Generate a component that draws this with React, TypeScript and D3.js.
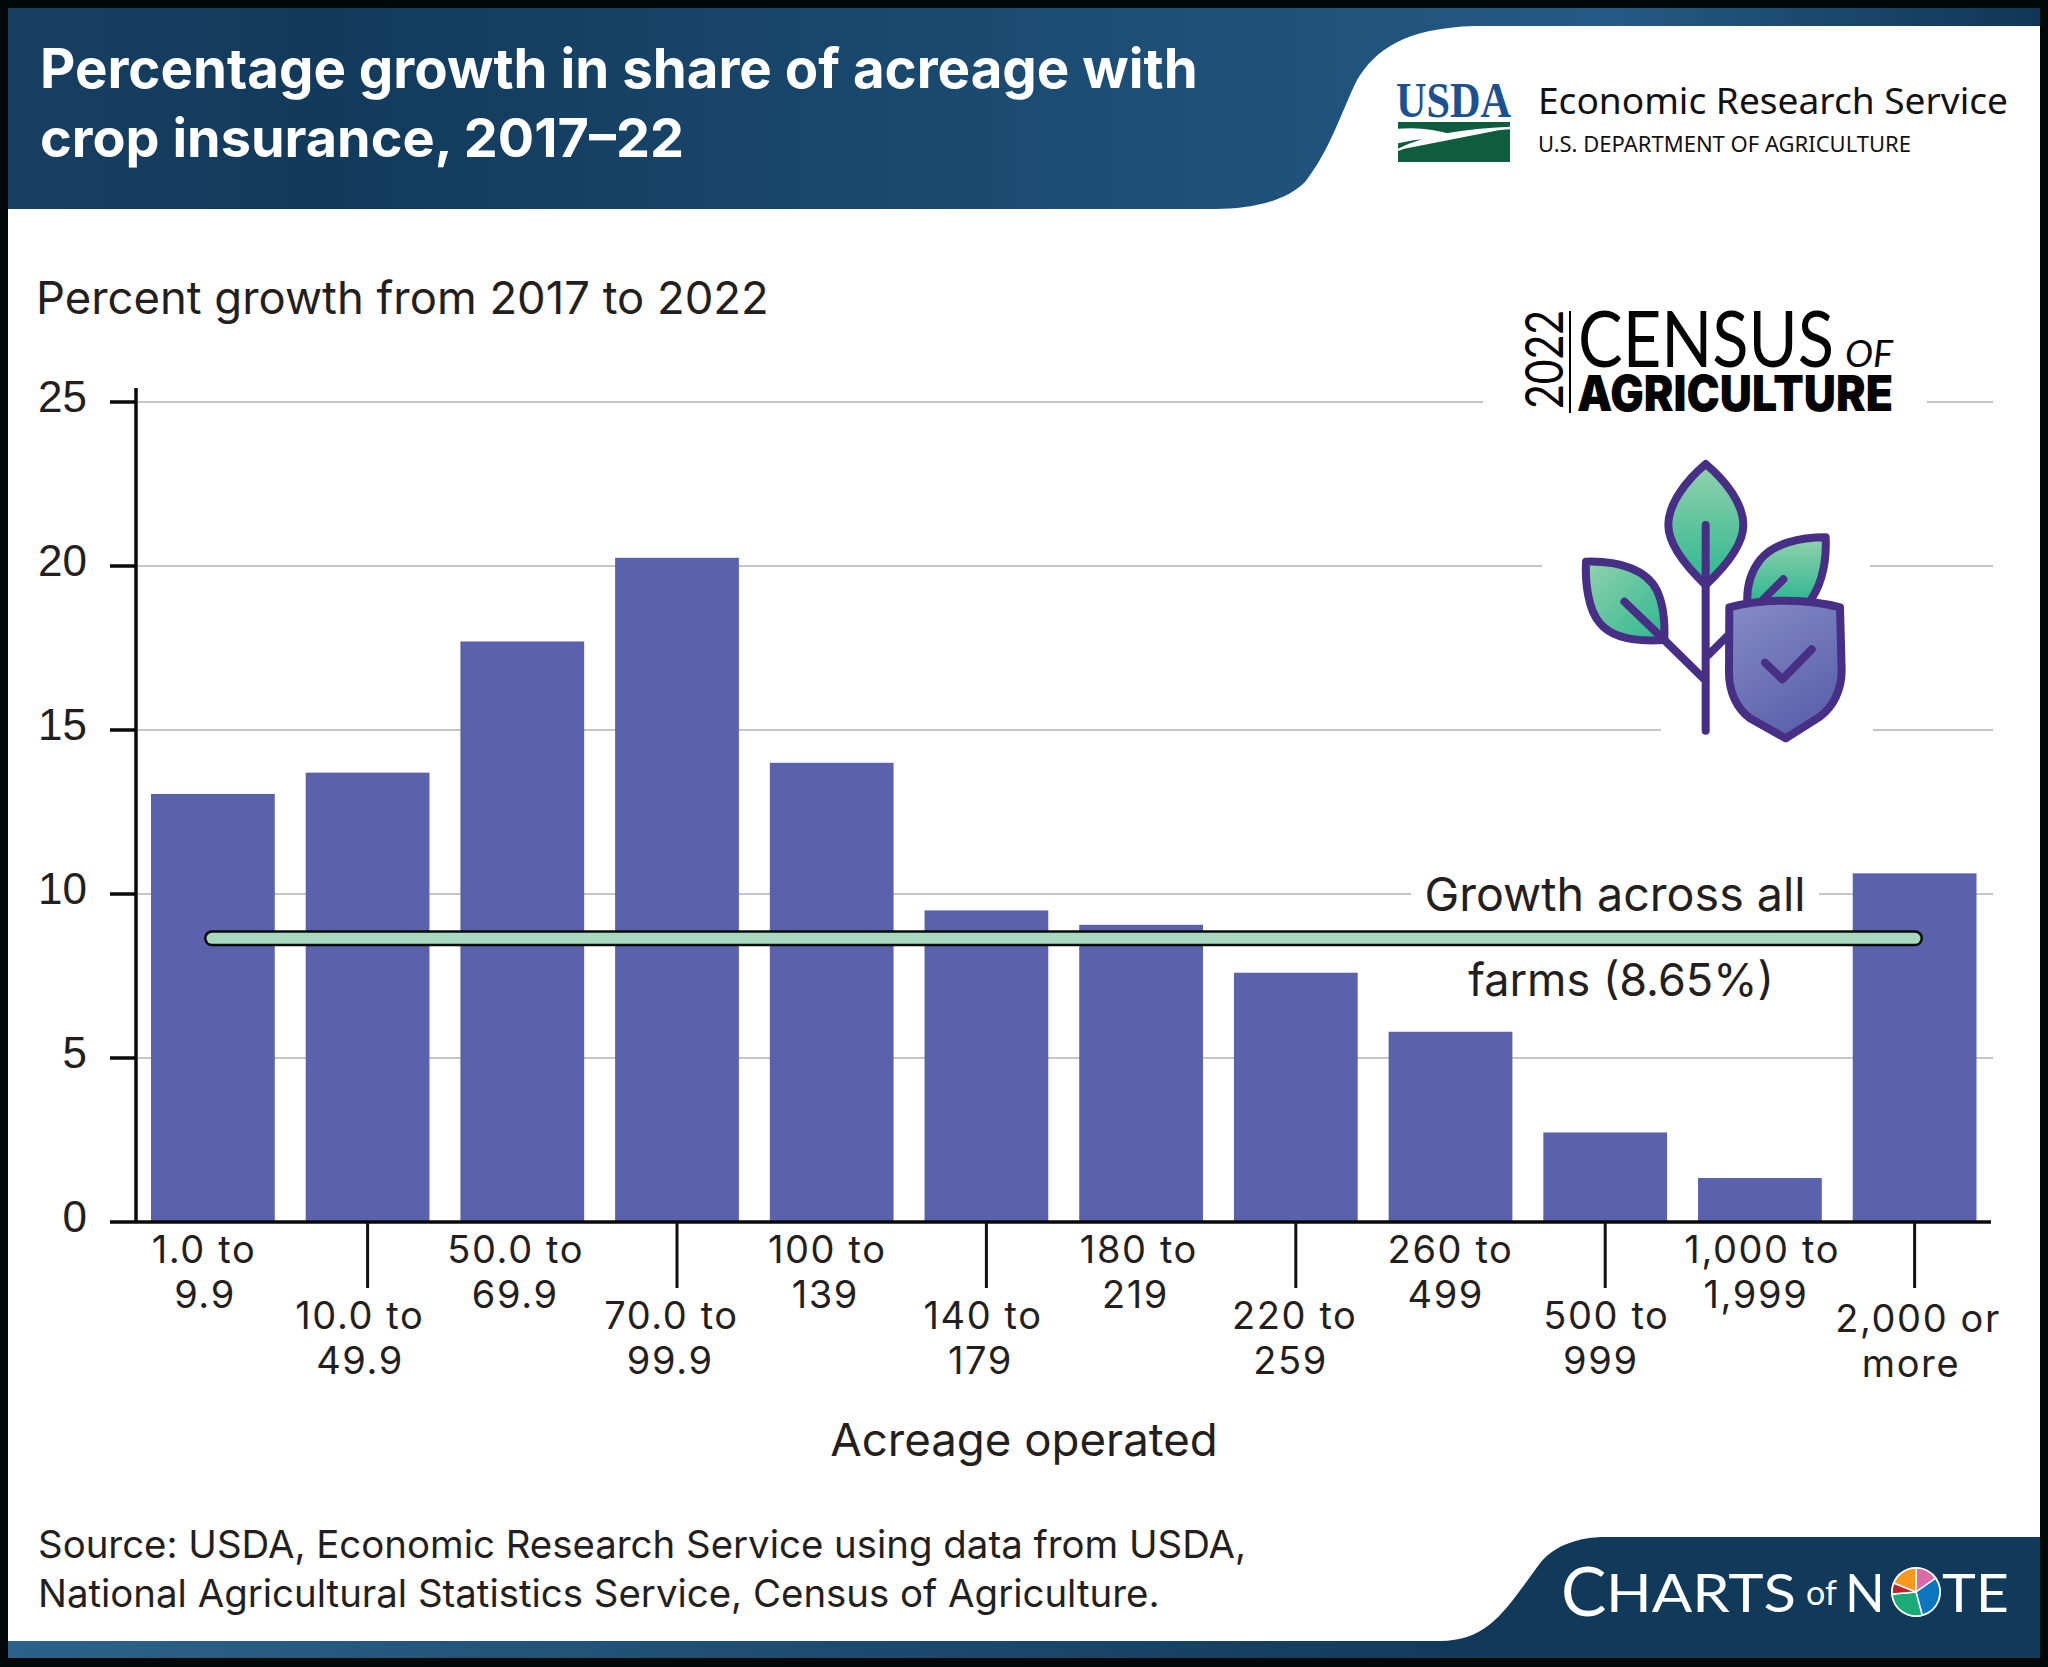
import React from "react";
import * as d3 from "d3";

const W = 2048, H = 1667;
const categories = ["1.0 to|9.9","10.0 to|49.9","50.0 to|69.9","70.0 to|99.9","100 to|139","140 to|179","180 to|219","220 to|259","260 to|499","500 to|999","1,000 to|1,999","2,000 or|more"];
const growth = [13.05,13.7,17.7,20.25,14.0,9.5,9.06,7.6,5.8,2.73,1.34,10.63];
const yTicks = [0,5,10,15,20,25];
const overall = 8.65;
const piePart = [55,110,100,27,68];
const pieColors = ["#dc6aa8","#0b75bd","#1bab78","#c3202e","#f7991f"];
const gridGaps: Record<number,[number,number][]> = {
  25: [[138,1483],[1927,1993]],
  20: [[138,1542],[1870,1993]],
  15: [[138,1661],[1873,1993]],
  10: [[138,1411],[1819,1993]],
  5: [[138,1993]],
};

const SANS = "Inter, sans-serif";
const INK = "#231f20";

export default function App() {
  const x = d3.scaleBand<string>().domain(categories).range([136, 1991.5]).paddingInner(0.2).paddingOuter(0.097);
  const labelTop = d3.scalePoint<string>().domain(categories).range([204, 1918]);
  const labelBottom = d3.scalePoint<string>().domain(categories).range([205, 1911]);
  const y = d3.scaleLinear().domain([0, 25]).range([1222, 402]);
  const slices = d3.pie<number>().sort(null)(piePart);
  const arc = d3.arc<d3.PieArcDatum<number>>().innerRadius(0).outerRadius(24);
  return (
    <svg width={W} height={H} viewBox={`0 0 ${W} ${H}`} style={{ position: "absolute", left: 0, top: 0, display: "block" }}>
      <defs>
        <linearGradient id="hdr" x1="0" x2="1" y1="0" y2="0">
          <stop offset="0" stopColor="#173f62" />
          <stop offset="0.15" stopColor="#113a5b" />
          <stop offset="0.79" stopColor="#245a85" />
          <stop offset="1" stopColor="#0f3656" />
        </linearGradient>
        <linearGradient id="strip" x1="0" x2="1" y1="0" y2="0">
          <stop offset="0" stopColor="#2c628a" />
          <stop offset="1" stopColor="#113a5b" />
        </linearGradient>
        <linearGradient id="leaf" x1="0" x2="0" y1="0" y2="1">
          <stop offset="0" stopColor="#93d2ae" />
          <stop offset="1" stopColor="#2cb78f" />
        </linearGradient>
        <linearGradient id="leafL" x1="0" x2="1" y1="0" y2="1">
          <stop offset="0" stopColor="#93d2ae" />
          <stop offset="1" stopColor="#2cb78f" />
        </linearGradient>
        <linearGradient id="shield" x1="0.2" x2="0.7" y1="0" y2="1">
          <stop offset="0" stopColor="#8289c3" />
          <stop offset="1" stopColor="#595fa9" />
        </linearGradient>
      </defs>

      <rect x={0} y={0} width={W} height={H} fill="#020708" />
      <rect x={8} y={8} width={2032} height={1650} fill="#ffffff" />

      {/* header */}
      <path d="M8 8 H2040 V26 H1475 C1405 28 1375 50 1357 80 C1340 115 1330 150 1305 182 C1285 202 1250 209 1215 209 H8 Z" fill="url(#hdr)" />
      <text fontFamily={SANS} fontWeight={700} fontSize={54.6} fill="#fff">
        <tspan x={40} y={88}>Percentage growth in share of acreage with</tspan>
        <tspan x={40} y={157} fontSize={54}>crop insurance, 2017–22</tspan>
      </text>

      {/* USDA mark */}
      <text x={1396} y={117} fontFamily="'Liberation Serif', serif" fontWeight={700} fontSize={50} fill="#1b5190" textLength={115} lengthAdjust="spacingAndGlyphs">USDA</text>
      <rect x={1398} y={122} width={112} height={40} fill="#0f5c3f" />
      <path d="M1398 130 C1420 128 1440 132 1452 136 C1430 136 1412 139 1398 142 Z M1398 150 C1430 134 1470 130 1510 128" fill="#fff" stroke="#fff" strokeWidth={2.5} />
      <text x={1538} y={114} fontFamily="'Noto Sans', sans-serif" fontSize={37.1} fill="#111">Economic Research Service</text>
      <text x={1538} y={152} fontFamily="'Noto Sans', sans-serif" fontSize={22} fill="#111">U.S. DEPARTMENT OF AGRICULTURE</text>

      {/* y title */}
      <text x={36} y={314} fontFamily={SANS} fontSize={45.4} fill={INK}>Percent growth from 2017 to 2022</text>

      {/* grid */}
      {yTicks.filter(t => t > 0).map(t => gridGaps[t].map(([a, b], i) => (
        <line key={`${t}-${i}`} x1={a} x2={b} y1={y(t)} y2={y(t)} stroke="#c6c6c6" strokeWidth={2} />
      )))}

      {/* bars */}
      {categories.map((c, i) => (
        <rect key={c} x={x(c)} y={y(growth[i])} width={x.bandwidth()} height={y(0) - y(growth[i])} fill="#5a62ab" />
      ))}

      {/* axes */}
      <line x1={136} x2={136} y1={388} y2={1223} stroke="#0a0a0a" strokeWidth={3.5} />
      <line x1={110} x2={1991} y1={1222} y2={1222} stroke="#0a0a0a" strokeWidth={3.5} />
      {yTicks.filter(t => t > 0).map(t => (
        <line key={t} x1={110} x2={136} y1={y(t)} y2={y(t)} stroke="#0a0a0a" strokeWidth={3.5} />
      ))}
      {yTicks.map(t => (
        <text key={t} x={87} y={y(t) + 10} textAnchor="end" fontFamily="'Liberation Sans', Arial, sans-serif" fontSize={44} fill={INK}>{t}</text>
      ))}
      {categories.map((c, i) => {
        const cx = x(c)! + x.bandwidth() / 2;
        const low = i % 2 === 1;
        const last = i === categories.length - 1 ? 3 : 0;
        const [l1, l2] = c.split("|");
        return (
          <g key={c}>
            {low && <line x1={cx} x2={cx} y1={1222} y2={1288} stroke="#111" strokeWidth={3} />}
            <text textAnchor="middle" fontFamily={SANS} fontSize={38} letterSpacing={1.6} fill={INK}>
              <tspan x={labelTop(c)} y={(low ? 1329 : 1263) + last}>{l1}</tspan>
              <tspan x={labelBottom(c)} y={(low ? 1374 : 1308) + last}>{l2}</tspan>
            </text>
          </g>
        );
      })}
      <text x={1024} y={1456} textAnchor="middle" fontFamily={SANS} fontSize={45.6} fill={INK}>Acreage operated</text>

      {/* overall line */}
      <line x1={212} x2={1915} y1={y(overall)} y2={y(overall)} stroke="#0a0a0a" strokeWidth={16} strokeLinecap="round" />
      <line x1={212} x2={1915} y1={y(overall)} y2={y(overall)} stroke="#a8d8bf" strokeWidth={11} strokeLinecap="round" />
      <text textAnchor="middle" fontFamily={SANS} fill={INK}>
        <tspan x={1615} y={911} fontSize={46.6}>Growth across all</tspan>
        <tspan x={1621} y={996} fontSize={45}>farms (8.65%)</tspan>
      </text>

      {/* census wordmark */}
      <text transform="translate(1563 409) rotate(-90)" fontFamily="Lato, sans-serif" fontWeight={400} fontSize={52} fill="#050505" textLength={99} lengthAdjust="spacingAndGlyphs">2022</text>
      <line x1={1570} x2={1570} y1={311} y2={413} stroke="#050505" strokeWidth={2} />
      <text x={1578} y={367} fontFamily="Lato, sans-serif" fontWeight={400} fontSize={77} fill="#050505" textLength={256} lengthAdjust="spacingAndGlyphs">CENSUS</text>
      <text x={1845} y={367} fontFamily="Lato, sans-serif" fontWeight={400} fontStyle="italic" fontSize={37} fill="#050505" textLength={48} lengthAdjust="spacingAndGlyphs">OF</text>
      <text x={1577} y={411} fontFamily="Inter, sans-serif" fontWeight={900} fontSize={49} fill="#050505" textLength={316} lengthAdjust="spacingAndGlyphs">AGRICULTURE</text>

      {/* plant icon */}
      <g transform="translate(1480 290) scale(0.33333)" stroke="#472f85" strokeWidth={24} strokeLinejoin="round" strokeLinecap="round">
        <path d="M677 522 C620 570 565 640 565 705 C565 770 630 840 677 885 C725 840 790 770 790 705 C790 640 735 570 677 522 Z" fill="url(#leaf)" />
        <path d="M318 815 C420 812 500 840 530 900 C552 945 555 1000 553 1050 C480 1055 400 1050 360 1000 C325 960 315 880 318 815 Z" fill="url(#leafL)" />
        <path d="M1037 742 C960 742 880 760 840 810 C805 855 800 900 802 940 L985 940 C1030 880 1040 810 1037 742 Z" fill="url(#leaf)" />
        <path d="M677 705 V1322 M433 935 L553 1050 L677 1172 M910 868 L850 928 M685 1095 L745 1035" fill="none" />
        <path d="M748 952 C800 938 860 932 915 932 C970 932 1030 938 1080 952 L1085 1140 C1085 1200 1060 1250 1020 1280 L917 1345 L810 1285 C770 1255 747 1205 747 1150 Z" fill="url(#shield)" />
        <path d="M855 1118 L907 1168 L995 1078" fill="none" />
      </g>

      {/* source */}
      <text fontFamily={SANS} fontSize={38.4} fill={INK}>
        <tspan x={38} y={1558}>Source: USDA, Economic Research Service using data from USDA,</tspan>
        <tspan x={38} y={1607}>National Agricultural Statistics Service, Census of Agriculture.</tspan>
      </text>

      {/* footer */}
      <rect x={8} y={1641} width={1470} height={17} fill="url(#strip)" />
      <path d="M1440 1641 C1490 1640 1505 1610 1541 1562 C1555 1545 1580 1537 1605 1537 H2040 V1658 H1440 Z" fill="#11395a" />
      <g fontFamily="Lato, sans-serif" fill="#fff">
        <text x={1561} y={1616} fontSize={68}>C</text>
        <text x={1606} y={1612} fontSize={52} textLength={190} lengthAdjust="spacingAndGlyphs">HARTS</text>
        <text x={1806} y={1605} fontSize={34}>of</text>
        <text x={1845} y={1612} fontSize={52}>N</text>
        <text x={1942} y={1612} fontSize={52} textLength={67} lengthAdjust="spacingAndGlyphs">TE</text>
      </g>
      <g transform="translate(1916 1592)">
        <circle r={25} fill="#fff" />
        {slices.map((s, i) => (
          <path key={i} d={arc(s) ?? ""} fill={pieColors[i]} stroke="#fff" strokeWidth={1.5} />
        ))}
      </g>
    </svg>
  );
}
